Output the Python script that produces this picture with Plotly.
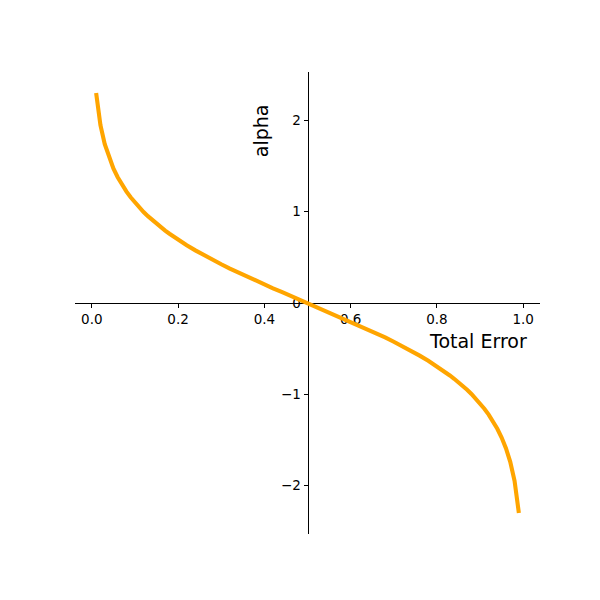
import plotly.graph_objects as go

total_error = [0.01, 0.02, 0.03, 0.04, 0.05, 0.06, 0.07, 0.08, 0.09, 0.10,
               0.11, 0.12, 0.13, 0.14, 0.15, 0.16, 0.17, 0.18, 0.19, 0.20,
               0.22, 0.24, 0.26, 0.28, 0.30, 0.32, 0.34, 0.36, 0.38, 0.40,
               0.42, 0.44, 0.46, 0.48, 0.50,
               0.52, 0.54, 0.56, 0.58, 0.60, 0.62, 0.64, 0.66, 0.68, 0.70,
               0.72, 0.74, 0.76, 0.78, 0.80, 0.81, 0.82, 0.83, 0.84, 0.85,
               0.86, 0.87, 0.88, 0.89, 0.90, 0.91, 0.92, 0.93, 0.94, 0.95,
               0.96, 0.97, 0.98, 0.99]
alpha = [2.298, 1.946, 1.738, 1.589, 1.472, 1.376, 1.293, 1.221, 1.157, 1.099,
         1.045, 0.996, 0.950, 0.908, 0.867, 0.829, 0.793, 0.758, 0.725, 0.693,
         0.633, 0.576, 0.523, 0.472, 0.424, 0.377, 0.332, 0.288, 0.245, 0.203,
         0.161, 0.121, 0.080, 0.040, 0.0,
         -0.040, -0.080, -0.121, -0.161, -0.203, -0.245, -0.288, -0.332, -0.377, -0.424,
         -0.472, -0.523, -0.576, -0.633, -0.693, -0.725, -0.758, -0.793, -0.829, -0.867,
         -0.908, -0.950, -0.996, -1.045, -1.099, -1.157, -1.221, -1.293, -1.376, -1.472,
         -1.589, -1.738, -1.946, -2.298]

x_ticks = [0.0, 0.2, 0.4, 0.6, 0.8, 1.0]
x_tick_labels = ["0.0", "0.2", "0.4", "0.6", "0.8", "1.0"]
y_ticks = [-2, -1, 0, 1, 2]
y_tick_labels = ["\u22122", "\u22121", "0", "1", "2"]

font = "DejaVu Sans"

fig = go.Figure()
fig.add_trace(go.Scatter(x=total_error, y=alpha, mode="lines",
                         line=dict(color="#FFA500", width=4.1), showlegend=False))

fig.update_layout(
    width=600, height=600,
    paper_bgcolor="white", plot_bgcolor="white",
    margin=dict(l=67, r=68, t=64, b=74),
    font=dict(family=font, size=13.5, color="black"),
    xaxis=dict(range=[-0.039, 1.039], tickvals=x_ticks, ticktext=x_tick_labels,
               showgrid=False, zeroline=False, showline=True, linecolor="black",
               linewidth=1, ticks="outside", ticklen=4, tickcolor="black",
               anchor="free", position=0.5, layer="below traces"),
    yaxis=dict(range=[-2.528, 2.528], tickvals=y_ticks, ticktext=y_tick_labels,
               showgrid=False, zeroline=False, showline=True, linecolor="black",
               linewidth=1, ticks="outside", ticklen=4, tickcolor="black",
               anchor="free", position=0.5, layer="below traces"),
    annotations=[
        dict(text="alpha", x=0.392, y=1.89, xref="x", yref="y", xanchor="center",
             yanchor="middle", textangle=-90, showarrow=False,
             font=dict(family=font, size=19)),
        dict(text="Total Error", x=0.896, y=-0.42, xref="x", yref="y",
             xanchor="center", yanchor="middle", showarrow=False,
             font=dict(family=font, size=19)),
    ],
)

fig.write_html("out.html")
